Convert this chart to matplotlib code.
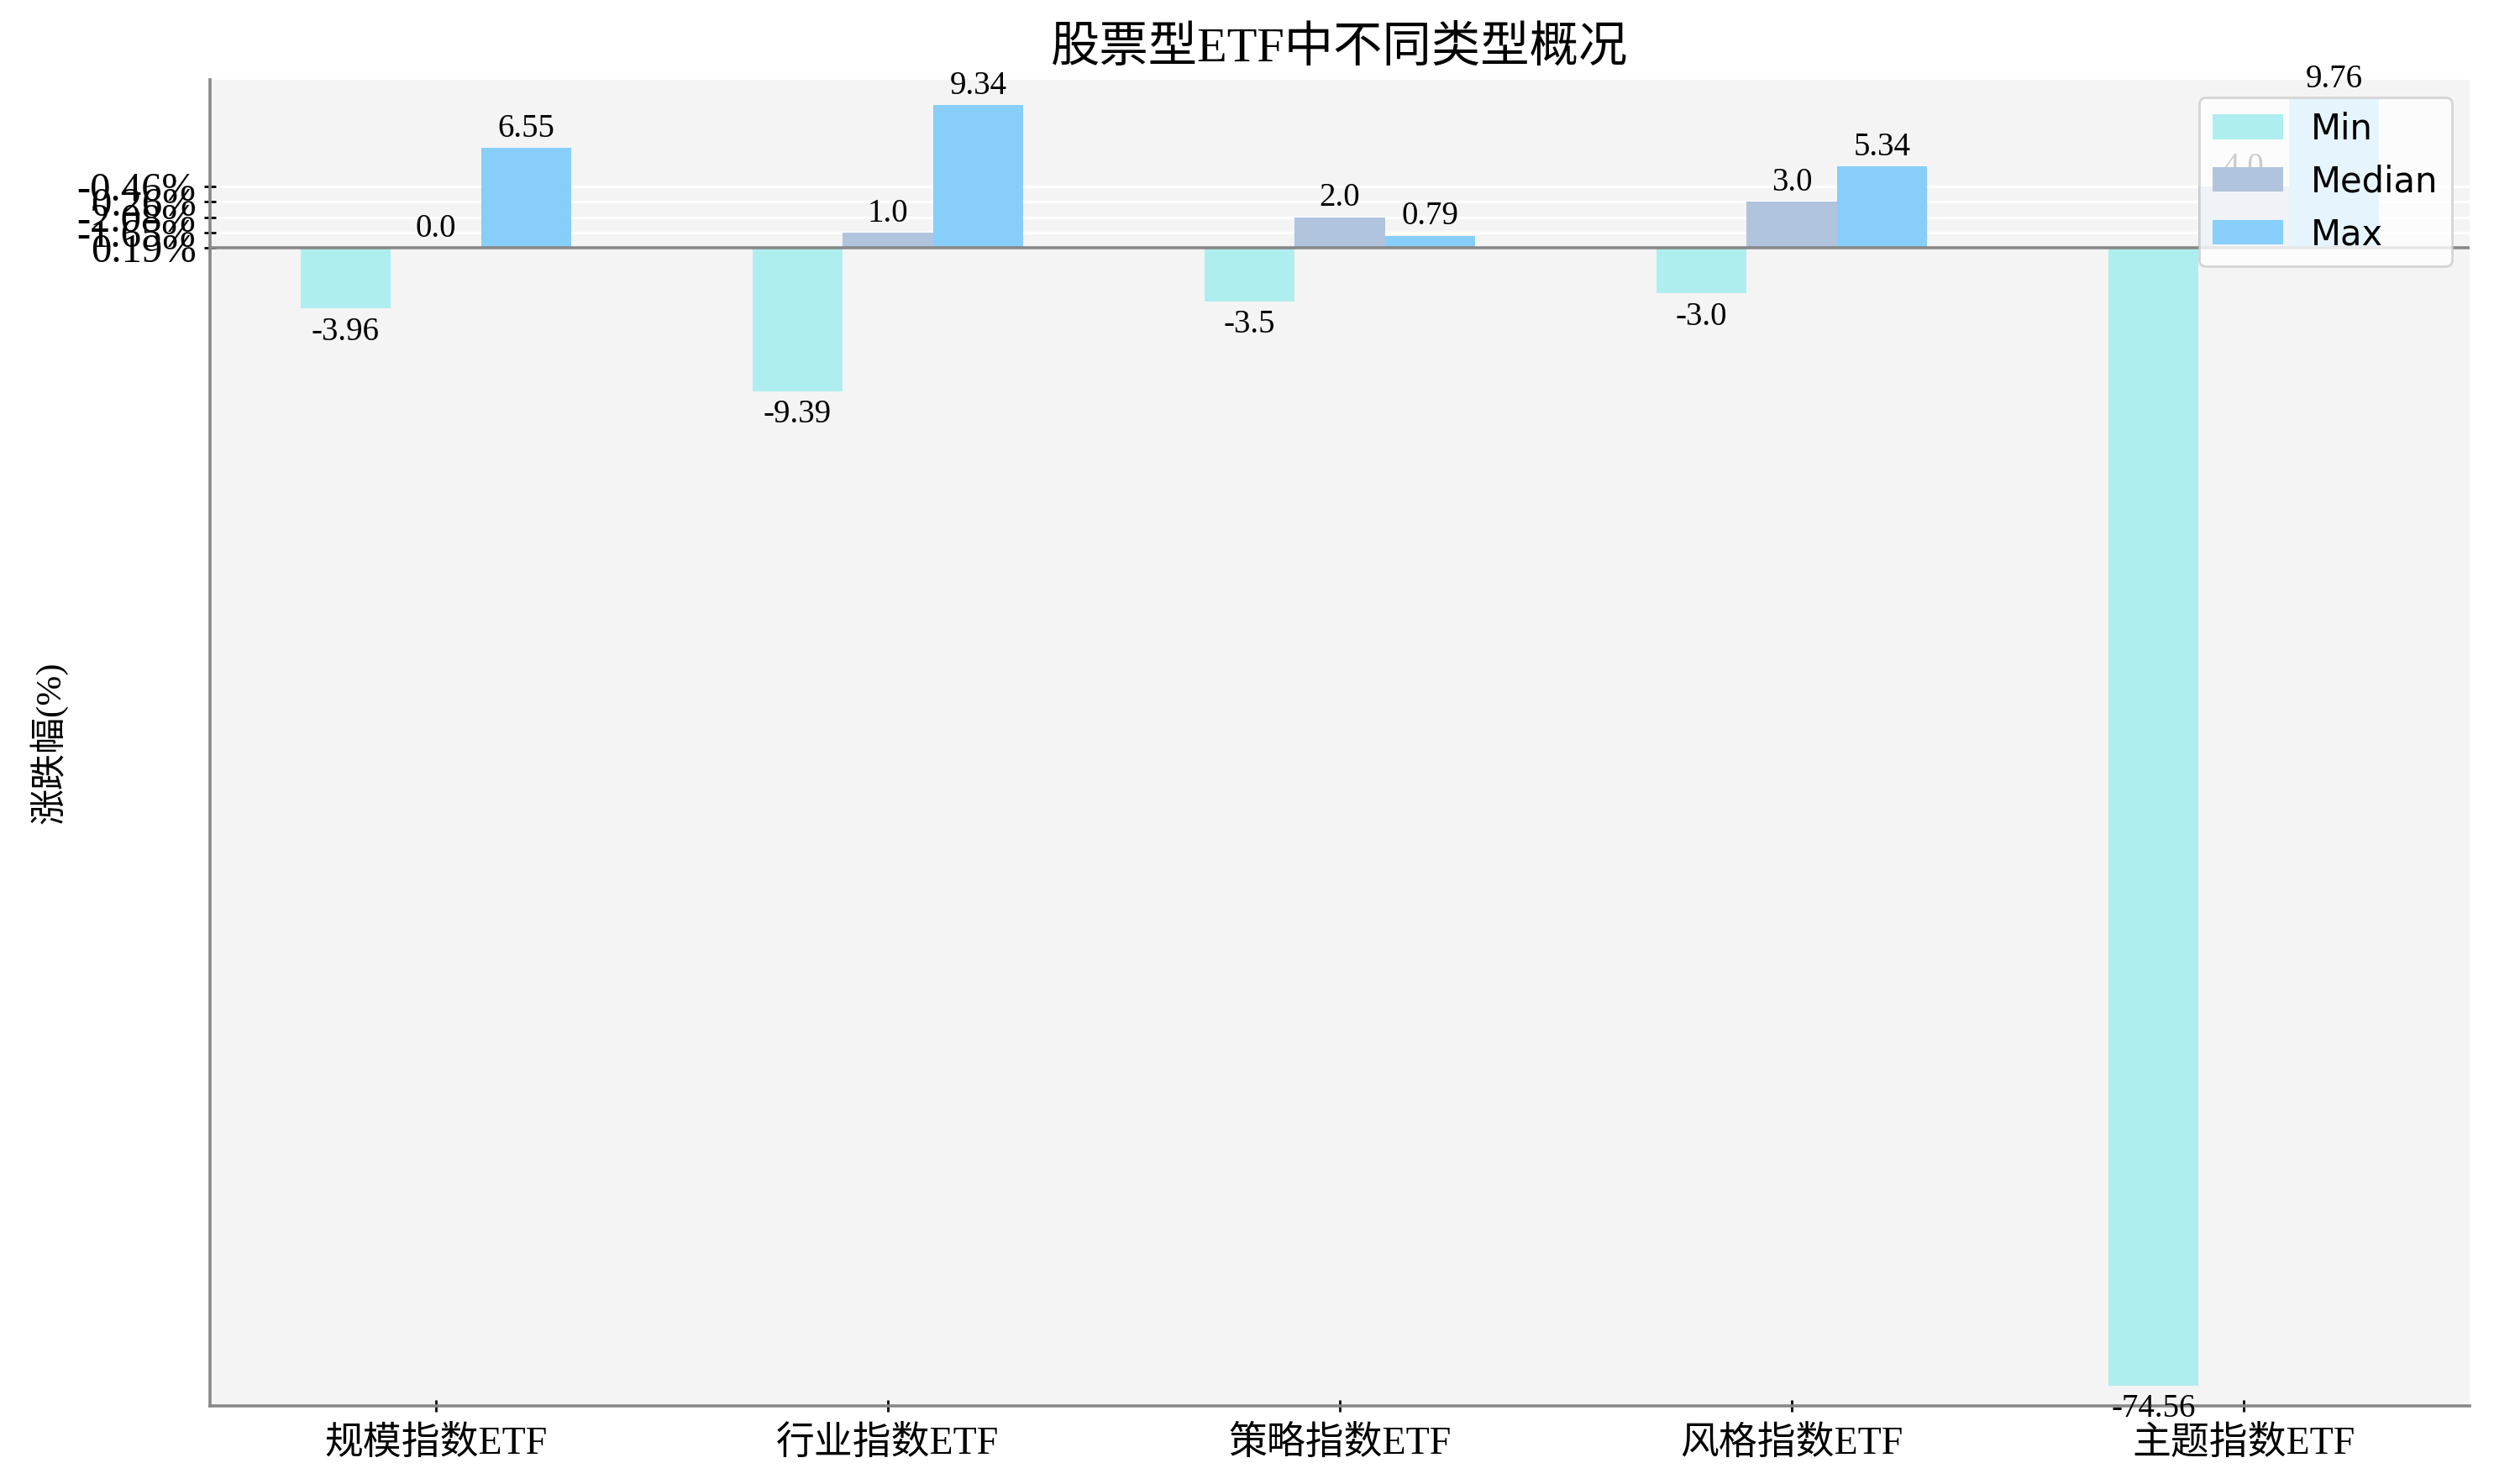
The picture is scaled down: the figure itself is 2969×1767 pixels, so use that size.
import numpy as np
import matplotlib
matplotlib.use("Agg")
from matplotlib import pyplot as plt

# 数据
categories = ["规模指数ETF", "行业指数ETF", "策略指数ETF", "风格指数ETF", "主题指数ETF"]
min_values = [-3.96, -9.39, -3.5, -3.0, -74.56]
median_values = [0.0, 1.0, 2.0, 3.0, 4.0]
max_values = [6.55, 9.34, 0.79, 5.34, 9.76]
series_names = ["Min", "Median", "Max"]
ytick_pos = [0, 1, 2, 3, 4]
ytick_labels = ["0.19%", "-1.65%", "-2.08%", "0.26%", "-0.46%"]

colors = ["#afeeee", "#b0c4de", "#87cefa"]

# 字体：拉丁字母用衬线体，中文回退到 Noto Sans CJK
plt.rcParams['font.family'] = ['Liberation Serif', 'Noto Sans CJK SC']
plt.rcParams['axes.unicode_minus'] = False

fig = plt.figure(figsize=(2969 / 200, 1767 / 200), dpi=200)
ax = fig.add_axes([0.0842, 0.0526, 0.906, 0.8936])
ax.set_facecolor("#f4f4f4")
ax.set_axisbelow(True)

x = np.arange(len(categories))
width = 0.2
all_series = [min_values, median_values, max_values]

for i, (vals, name, c) in enumerate(zip(all_series, series_names, colors)):
    pos = x + (i - 1) * width
    ax.bar(pos, vals, width, color=c, label=name, zorder=2)
    # 数值标签
    for px, v in zip(pos, vals):
        if v < 0:
            ax.annotate(str(v), (px, v), xytext=(0, -3.5), textcoords="offset points",
                        ha="center", va="top", fontsize=14, zorder=3)
        else:
            ax.annotate(str(v), (px, v), xytext=(0, 1.5), textcoords="offset points",
                        ha="center", va="bottom", fontsize=14, zorder=3)

ax.axhline(0, color="#888888", linewidth=1.3, zorder=2.5)

ax.set_xlim(-0.5, 4.5)
ax.set_ylim(-75.9, 11.0)
ax.set_xticks(x)
ax.set_xticklabels(categories)
ax.set_yticks(ytick_pos)
ax.set_yticklabels(ytick_labels)
ax.tick_params(axis="both", direction="inout", length=5, width=1.0, color="black")
ax.tick_params(axis="x", pad=6, labelsize=16.5)
ax.tick_params(axis="y", labelsize=17.5)

ax.yaxis.grid(True, color="white", linewidth=1.2)
ax.xaxis.grid(False)

for side in ["top", "right"]:
    ax.spines[side].set_visible(False)
for side in ["left", "bottom"]:
    ax.spines[side].set_color("#888888")
    ax.spines[side].set_linewidth(1.3)

ax.set_ylabel("涨跌幅(%)", fontsize=15.5)
ax.set_title("股票型ETF中不同类型概况", fontsize=21, pad=8)

ax.legend(loc="upper right", prop={"family": "DejaVu Sans", "size": 15})

fig.savefig("out.png", dpi=200)
